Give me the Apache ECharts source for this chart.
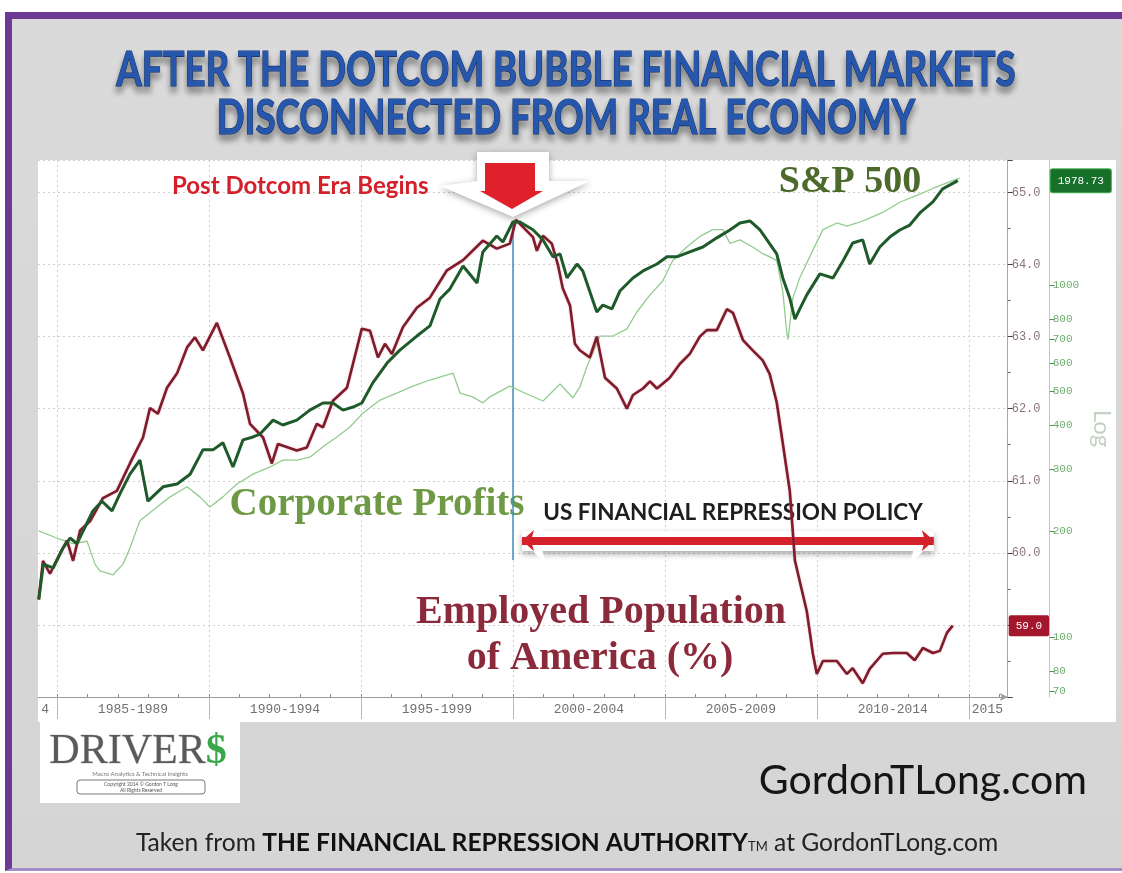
<!DOCTYPE html>
<html>
<head>
<meta charset="utf-8">
<script src="https://cdn.jsdelivr.net/npm/echarts@6/dist/echarts.min.js"></script>
<style>
html,body{margin:0;padding:0;width:1122px;height:873px;overflow:hidden;background:#fff;}
#frame{position:absolute;left:5px;top:12px;width:1140px;height:859px;background:linear-gradient(#dadada,#d5d5d5);border-left:7px solid #6b3a96;border-top:7px solid #6b3a96;border-bottom:3px solid #a48cc6;box-sizing:border-box;}
#panel{position:absolute;left:38px;top:160px;width:1078px;height:562px;background:#fff;}
#logo{position:absolute;left:40px;top:722px;width:200px;height:81px;background:#fff;}
#chart{position:absolute;left:0;top:0;width:1122px;height:873px;}
</style>
</head>
<body>
<div id="frame"></div>
<div id="panel"></div>
<div id="logo"></div>
<div id="chart"></div>
<script>
// ---------- data ----------
const periodLabels = ['1985-1989','1990-1994','1995-1999','2000-2004','2005-2009','2010-2014'];
const periodCenters = [1987.5,1992.5,1997.5,2002.5,2007.5,2012.5];
const periodBounds = [1985,1990,1995,2000,2005,2010,2015];
const yearTicks = [1985,1986,1987,1988,1989,1990,1991,1992,1993,1994,1995,1996,1997,1998,1999,2000,2001,2002,2003,2004,2005,2006,2007,2008,2009,2010,2011,2012,2013,2014,2015,2016];
const empTicks = [59,60,61,62,63,64,65];
const spxTicks = [70,80,100,200,300,400,500,600,700,800,1000];

const empYears = [1984.40,1984.54,1984.77,1985.10,1985.33,1985.53,1985.76,1986.09,1986.51,1986.97,
1987.40,1987.83,1988.06,1988.32,1988.62,1988.95,1989.28,1989.54,1989.80,1990.26,
1990.69,1991.12,1991.35,1991.78,1992.07,1992.27,1992.89,1993.22,1993.55,1993.75,
1994.08,1994.54,1995.03,1995.30,1995.56,1995.79,1996.02,1996.38,1996.84,1997.27,
1997.83,1998.36,1999.01,1999.47,1999.90,2000.10,2000.66,2000.79,2000.99,2001.28,
2001.48,2001.64,2001.88,2002.04,2002.20,2002.53,2002.76,2003.03,2003.42,2003.75,
2003.95,2004.28,2004.51,2004.74,2005.16,2005.49,2005.82,2006.15,2006.38,2006.71,
2007.04,2007.24,2007.57,2007.89,2008.22,2008.45,2008.68,2008.88,2009.11,2009.28,
2009.67,2009.87,2010.00,2010.20,2010.66,2010.99,2011.18,2011.51,2011.74,2012.17,
2012.50,2012.96,2013.22,2013.49,2013.82,2014.05,2014.28,2014.47];
const empValues = [59.35,59.89,59.71,59.99,60.17,59.89,60.31,60.44,60.76,60.86,
61.24,61.60,62.01,61.93,62.29,62.49,62.85,62.99,62.81,63.19,
62.71,62.21,61.79,61.60,61.24,61.51,61.42,61.46,61.79,61.74,
62.11,62.29,63.11,63.08,62.71,62.90,62.76,63.13,63.40,63.54,
63.92,64.06,64.33,64.22,64.29,64.62,64.38,64.19,64.40,64.29,
64.00,63.67,63.43,62.90,62.81,62.71,63.00,62.43,62.28,62.00,
62.19,62.28,62.38,62.28,62.43,62.62,62.76,63.00,63.09,63.09,
63.38,63.33,62.95,62.81,62.67,62.48,62.09,61.52,60.86,59.89,
59.19,58.60,58.32,58.50,58.50,58.32,58.40,58.19,58.39,58.60,
58.61,58.61,58.51,58.68,58.61,58.64,58.89,58.99];

const spxYears = [1984.40,1984.55,1984.87,1985.20,1985.43,1985.66,1985.86,1986.18,1986.48,1986.81,
1987.07,1987.40,1987.73,1987.99,1988.49,1988.95,1989.38,1989.80,1990.13,1990.46,
1990.79,1991.12,1991.45,1991.68,1992.11,1992.43,1992.89,1993.32,1993.75,1994.08,
1994.41,1994.74,1995.03,1995.39,1995.86,1996.28,1996.84,1997.27,1997.60,1997.93,
1998.36,1998.82,1999.01,1999.47,1999.67,2000.00,2000.23,2000.66,2000.99,2001.32,
2001.55,2001.78,2002.11,2002.30,2002.76,2002.96,2003.26,2003.52,2003.95,2004.28,
2004.74,2005.07,2005.39,2005.82,2006.25,2006.71,2007.14,2007.47,2007.80,2008.13,
2008.36,2008.68,2008.88,2009.11,2009.28,2009.44,2009.67,2010.10,2010.53,2010.86,
2011.18,2011.51,2011.74,2012.07,2012.40,2012.73,2013.06,2013.39,2013.82,2014.14,
2014.64];
const spxValues = [128,161,157,179,191,184,200,228,243,228,
255,290,318,243,267,272,290,340,340,356,
304,363,370,377,413,400,413,441,462,462,
441,450,462,527,600,653,716,765,912,975,
1132,1013,1241,1378,1325,1510,1510,1435,1343,1202,
1225,1047,1147,1096,838,877,855,961,1047,1096,
1147,1202,1202,1241,1282,1361,1433,1500,1520,1433,
1343,1225,1047,918,800,855,937,1075,1047,1170,
1316,1343,1147,1282,1368,1433,1480,1602,1722,1875,
1978.73];

const profitYears = [1984.40,1984.99,1985.53,1985.99,1986.25,1986.41,1986.84,1987.17,1987.40,1987.73,
1988.29,1988.72,1989.28,1989.70,1990.03,1990.46,1990.92,1991.45,1992.01,1992.43,
1992.89,1993.32,1993.75,1994.21,1994.64,1995.07,1995.63,1996.18,1996.71,1997.27,
1998.03,1998.26,1998.68,1999.01,1999.24,1999.90,2000.46,2000.99,2001.55,2001.97,
2002.20,2002.43,2002.63,2002.86,2003.29,2003.75,2004.08,2004.51,2004.93,2005.26,
2005.72,2006.15,2006.58,2006.91,2007.14,2007.47,2007.89,2008.22,2008.45,2008.68,
2008.88,2009.01,2009.05,2009.21,2009.44,2009.87,2010.20,2010.66,2010.99,2011.32,
2011.64,2012.17,2012.73,2013.29,2013.82,2014.38,2014.70];
const profitValues = [200,191,184,187,161,154,150,161,179,214,
234,250,267,250,234,250,272,290,304,318,
318,324,347,370,395,433,471,493,516,537,
562,493,481,462,481,516,490,468,523,478,
512,585,641,716,716,750,838,937,1026,1173,
1282,1374,1436,1436,1313,1343,1282,1227,1202,1173,
959,733,700,916,1049,1256,1436,1500,1469,1500,
1535,1607,1718,1798,1880,1965,2011];

// annotation anchors (data units of the employment axis)
const dotcomYear = 2000;
const dotcomLineTop = 64.6, dotcomLineBottom = 59.9;
const policyStart = 2000.3, policyEnd = 2013.85, policyLevel = 60.17;

const zip = (xs, ys) => xs.map((x, i) => [x, ys[i]]);
const lastEmp = empValues[empValues.length - 1];
const lastSpx = spxValues[spxValues.length - 1];

const X_MIN = 1984.375, X_MAX = 2016.28;
const MONO = '"Liberation Mono", "DejaVu Sans Mono", monospace';
const SERIF = '"Liberation Serif", "DejaVu Serif", serif';
const CAL = 'Lato, "Open Sans", sans-serif';
const HIDDEN = {color: 'rgba(0,0,0,0)', width: 1, type: 'solid'};

const chart = echarts.init(document.getElementById('chart'), null, {renderer: 'canvas'});

const option = {
  animation: false,
  backgroundColor: 'transparent',
  grid: {left: 38, right: 114, top: 160, bottom: 176, containLabel: false},
  xAxis: [
    {
      type: 'value', min: X_MIN, max: X_MAX, position: 'bottom',
      axisLine: {show: true, lineStyle: {color: '#9c9c9c', width: 1}, symbol: ['none', 'arrow'], symbolSize: [6, 8]},
      axisTick: {show: true, customValues: periodBounds, length: 22, lineStyle: {color: '#b8b8b8'}},
      axisLabel: {
        show: true, customValues: periodCenters, margin: 6,
        formatter: v => periodLabels[periodCenters.indexOf(v)] || '',
        color: '#707070', fontFamily: MONO, fontSize: 13
      },
      splitLine: {show: true, lineStyle: {color: '#cfcfcf', type: [2, 3], width: 1}}
    },
    {
      type: 'value', min: X_MIN, max: X_MAX, position: 'bottom',
      axisLine: {show: false},
      axisTick: {show: true, customValues: yearTicks, inside: true, length: 3, lineStyle: {color: '#8a8a8a'}},
      axisLabel: {show: true, customValues: [1985], formatter: () => '4', align: 'right', padding: [0, 8, 0, 0], margin: 6, color: '#707070', fontFamily: MONO, fontSize: 13},
      splitLine: {show: false}
    },
    {
      type: 'value', min: X_MIN, max: X_MAX, position: 'bottom',
      axisLine: {show: false}, axisTick: {show: false},
      axisLabel: {show: true, customValues: [2015], formatter: () => '2015', align: 'left', padding: [0, 0, 0, 3], margin: 6, color: '#707070', fontFamily: MONO, fontSize: 13},
      splitLine: {show: false}
    }
  ],
  yAxis: [
    {
      type: 'value', position: 'right', min: 58, max: 65.45, interval: 1,
      axisLine: {show: true, lineStyle: {color: '#a8a8a8'}},
      axisTick: {show: true, length: 5, lineStyle: {color: '#444'}},
      minorTick: {show: true, splitNumber: 2, length: 3, lineStyle: {color: '#666'}},
      axisLabel: {
        margin: 4, color: '#8a7378', fontFamily: MONO, fontSize: 12,
        formatter: v => (empTicks.indexOf(Math.round(v * 100) / 100) >= 0 ? v.toFixed(1) : '')
      },
      splitLine: {show: true, lineStyle: {color: '#cfcfcf', type: [2, 3], width: 1}}
    },
    {
      type: 'log', logBase: 10, position: 'right', offset: 42, min: 67.5, max: 2265,
      axisLine: {show: true, lineStyle: {color: '#c4c4c4'}},
      axisTick: {show: true, customValues: spxTicks, length: 5, lineStyle: {color: '#4f8f4f'}},
      axisLabel: {show: true, customValues: spxTicks, margin: 3, color: '#70ad70', fontFamily: MONO, fontSize: 11,
        formatter: v => String(Math.round(v))},
      splitLine: {show: false},
      name: 'Log', nameLocation: 'middle', nameGap: 36, nameRotate: -90,
      nameTextStyle: {color: '#c3d2c3', fontSize: 24, fontFamily: CAL}
    },
    {type: 'log', logBase: 10, show: false, min: 67.5, max: 2265}
  ],
  series: [
    {
      name: 'Corporate Profits', type: 'line', xAxisIndex: 0, yAxisIndex: 2,
      data: zip(profitYears, profitValues), showSymbol: false, z: 2,
      lineStyle: {color: '#93cc8f', width: 1.3}
    },
    {
      name: 'Employed Population of America (%)', type: 'line', xAxisIndex: 0, yAxisIndex: 0,
      data: zip(empYears, empValues), showSymbol: false, z: 3,
      lineStyle: {color: '#7e1c2c', width: 2.6, shadowColor: 'rgba(220,120,130,0.6)', shadowBlur: 2},
      markLine: {
        silent: true, z: 1, animation: false, label: {show: false},
        data: [
          [{coord: [policyStart, policyLevel], symbol: 'arrow', symbolSize: [36, 24],
            lineStyle: {color: '#ffffff', width: 20, type: 'solid', shadowColor: 'rgba(0,0,0,0.35)', shadowBlur: 6, shadowOffsetY: 3}},
           {coord: [policyEnd, policyLevel], symbol: 'arrow', symbolSize: [36, 24]}],
          [{coord: [policyStart, policyLevel], symbol: 'arrow', symbolSize: [16, 12],
            lineStyle: {color: '#d4212c', width: 8, type: 'solid'}},
           {coord: [policyEnd, policyLevel], symbol: 'arrow', symbolSize: [16, 12]}],
          [{coord: [dotcomYear, dotcomLineTop], symbol: 'none', lineStyle: {color: '#3f8fbd', width: 1.5, type: 'solid'}},
           {coord: [dotcomYear, dotcomLineBottom], symbol: 'none'}],
          {yAxis: lastEmp, symbol: 'none', lineStyle: HIDDEN,
           label: {show: true, position: 'end', distance: 1, formatter: lastEmp.toFixed(1),
             backgroundColor: '#a3162c', color: '#fff', padding: [5, 7], fontSize: 11, fontFamily: MONO, borderRadius: 2}}
        ]
      }
    },
    {
      name: 'S&P 500', type: 'line', xAxisIndex: 0, yAxisIndex: 1,
      data: zip(spxYears, spxValues), showSymbol: false, z: 4,
      lineStyle: {color: '#1f5a2b', width: 3},
      markLine: {
        silent: true, z: 6, symbol: ['none', 'none'], animation: false,
        data: [{yAxis: lastSpx, lineStyle: HIDDEN,
          label: {show: true, position: 'end', distance: 43, formatter: String(lastSpx),
            backgroundColor: '#16702a', borderColor: '#4caf5a', borderWidth: 1, color: '#fff', padding: [6, 7], fontSize: 11, fontFamily: MONO, borderRadius: 2}}]
      }
    }
  ],
  graphic: [
    // title
    {type: 'text', x: 566, y: 71, scaleX: 0.78, z: 10, style: {text: 'AFTER THE DOTCOM BUBBLE FINANCIAL MARKETS',
      textAlign: 'center', textVerticalAlign: 'middle', font: 'bold 47px ' + CAL, fill: '#2657ad', stroke: '#14387c', lineWidth: 1.2,
      textShadowColor: 'rgba(0,0,0,0.4)', textShadowBlur: 6, textShadowOffsetY: 6}},
    {type: 'text', x: 566, y: 119, scaleX: 0.78, z: 10, style: {text: 'DISCONNECTED FROM REAL ECONOMY',
      textAlign: 'center', textVerticalAlign: 'middle', font: 'bold 47px ' + CAL, fill: '#2657ad', stroke: '#14387c', lineWidth: 1.2,
      textShadowColor: 'rgba(0,0,0,0.4)', textShadowBlur: 6, textShadowOffsetY: 6}},
    // callout + red arrow
    {type: 'polygon', z: 50, shape: {points: [[477,152],[549,152],[549,181],[590,181],[513,217],[440,186],[477,181]]},
      style: {fill: '#ffffff', shadowColor: 'rgba(0,0,0,0.35)', shadowBlur: 7, shadowOffsetY: 2}},
    {type: 'polygon', z: 51, shape: {points: [[485,163],[535,163],[535,191],[543,191],[512,209],[480,191],[485,191]]},
      style: {fill: '#e0212b'}},
    {type: 'text', x: 172, y: 186, z: 10, style: {text: 'Post Dotcom Era Begins', textAlign: 'left', textVerticalAlign: 'middle',
      font: 'bold 24px ' + CAL, fill: '#d4202b'}},
    // series captions
    {type: 'text', x: 850, y: 182, z: 1, style: {text: 'S&P 500', textAlign: 'center', textVerticalAlign: 'middle',
      font: 'bold 38px ' + SERIF, fill: '#4b6a2c'}},
    {type: 'text', x: 377, y: 505, z: 1, style: {text: 'Corporate Profits', textAlign: 'center', textVerticalAlign: 'middle',
      font: 'bold 39px ' + SERIF, fill: '#6e9a45'}},
    {type: 'text', x: 601, y: 613, z: 1, style: {text: 'Employed Population', textAlign: 'center', textVerticalAlign: 'middle',
      font: 'bold 40px ' + SERIF, fill: '#8a2a3a'}},
    {type: 'text', x: 600, y: 659, z: 1, style: {text: 'of America (%)', textAlign: 'center', textVerticalAlign: 'middle',
      font: 'bold 40px ' + SERIF, fill: '#8a2a3a'}},
    {type: 'text', x: 733, y: 513, z: 1, style: {text: 'US FINANCIAL REPRESSION POLICY', textAlign: 'center', textVerticalAlign: 'middle',
      font: 'bold 22.5px ' + CAL, fill: '#1e1e1e'}},
    // logo
    {type: 'text', x: 138, y: 752, z: 10, style: {text: '{d|DRIVER}{s|$}', textAlign: 'center', textVerticalAlign: 'middle',
      rich: {d: {fontFamily: SERIF, fontSize: 42, fill: '#5a5a5a', stroke: '#d8d8d8', lineWidth: 1},
             s: {fontFamily: SERIF, fontSize: 42, fill: '#3aa84a', fontWeight: 'bold'}}}},
    {type: 'text', x: 140, y: 774, z: 10, style: {text: 'Macro Analytics & Technical Insights', textAlign: 'center', textVerticalAlign: 'middle',
      font: '6px ' + CAL, fill: '#777'}},
    {type: 'rect', z: 10, shape: {x: 77, y: 780, width: 128, height: 14, r: 3}, style: {fill: '#fff', stroke: '#777', lineWidth: 1}},
    {type: 'text', x: 141, y: 787, z: 11, style: {text: 'Copyright 2014 \u00a9 Gordon T Long\nAll Rights Reserved', textAlign: 'center', textVerticalAlign: 'middle',
      font: '5px ' + CAL, fill: '#555', lineHeight: 6}},
    // footer
    {type: 'text', x: 1087, y: 781, z: 10, style: {text: 'GordonTLong.com', textAlign: 'right', textVerticalAlign: 'middle',
      font: '41px ' + CAL, fill: '#151515'}},
    {type: 'text', x: 567, y: 843, z: 10, style: {
      text: '{n|Taken from }{b|THE FINANCIAL REPRESSION AUTHORITY}{s|TM}{n| at GordonTLong.com}',
      textAlign: 'center', textVerticalAlign: 'middle',
      rich: {n: {fontFamily: CAL, fontSize: 24.6, fill: '#222'},
             b: {fontFamily: CAL, fontSize: 24.6, fontWeight: 'bold', fill: '#111'},
             s: {fontFamily: CAL, fontSize: 13, fill: '#222', padding: [7, 0, 0, 0]}}}}
  ]
};
chart.setOption(option);
</script>
</body>
</html>
